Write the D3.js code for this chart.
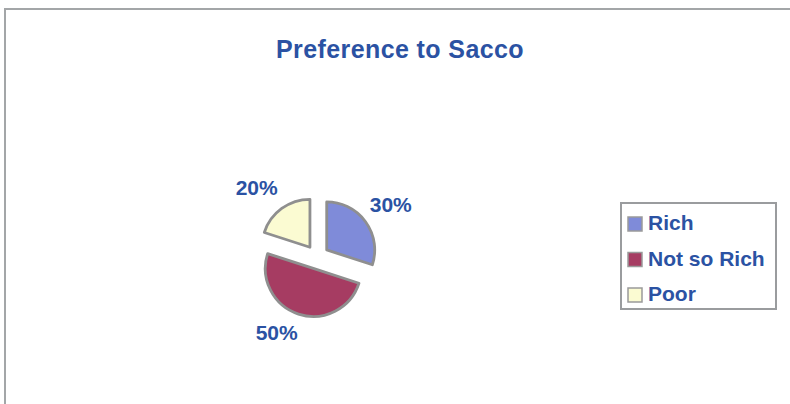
<!DOCTYPE html>
<html>
<head>
<meta charset="utf-8">
<script src="https://cdn.jsdelivr.net/npm/d3@7"></script>
<style>
  body { margin: 0; background: #fff; }
  svg { display: block; font-family: Arial, "Liberation Sans", sans-serif; font-weight: bold; }
</style>
</head>
<body>
<div id="chart"></div>
<script>
var categories = ["Rich", "Not so Rich", "Poor"];
var values = [30, 50, 20];
var labels = ["30%", "50%", "20%"];
var colors = ["#7f8bd9", "#a63c62", "#fbfbd2"];

var width = 790, height = 404;
var textColor = "#2b52a3";

var svg = d3.select("#chart").append("svg")
    .attr("width", width)
    .attr("height", height);

// outer frame (only top and left edges are visible in the shot)
svg.append("path")
    .attr("d", "M5,404 V9 H790")
    .attr("fill", "none")
    .attr("stroke", "#a3a6a8")
    .attr("stroke-width", 2);

svg.append("text")
    .attr("x", 400)
    .attr("y", 58)
    .attr("text-anchor", "middle")
    .attr("font-size", 25)
    .attr("letter-spacing", 0.4)
    .attr("fill", textColor)
    .text("Preference to Sacco");

var cx = 317, cy = 257, r = 48, explode = 12;

var pie = d3.pie().sort(null).value(function(d) { return d; });
var arcs = pie(values);
var arc = d3.arc().innerRadius(0).outerRadius(r);

var g = svg.append("g").attr("transform", "translate(" + cx + "," + cy + ")");

function offset(angle, dist) {
    return [Math.sin(angle) * dist, -Math.cos(angle) * dist];
}
function mid(d) { return (d.startAngle + d.endAngle) / 2; }

g.selectAll("path.slice")
    .data(arcs)
    .enter()
    .append("path")
    .attr("class", "slice")
    .attr("d", arc)
    .attr("transform", function(d) {
        var o = offset(mid(d), explode);
        return "translate(" + o[0] + "," + o[1] + ")";
    })
    .attr("fill", function(d, i) { return colors[i]; })
    .attr("stroke", "#8f8f8f")
    .attr("stroke-width", 2.8)
    .attr("stroke-linejoin", "round");

// percentage labels sit outside each slice
var labelDist = [90, 86, 92];
var labelTurn = [1, 10, -5]; // degrees, nudge off the mid angle
g.selectAll("text.pct")
    .data(arcs)
    .enter()
    .append("text")
    .attr("class", "pct")
    .attr("x", function(d, i) { return offset(mid(d) + labelTurn[i] * Math.PI / 180, labelDist[i])[0]; })
    .attr("y", function(d, i) { return offset(mid(d) + labelTurn[i] * Math.PI / 180, labelDist[i])[1] + 7; })
    .attr("text-anchor", "middle")
    .attr("font-size", 21)
    .attr("fill", textColor)
    .text(function(d, i) { return labels[i]; });

// legend
var legend = svg.append("g").attr("transform", "translate(621,203)");
legend.append("rect")
    .attr("width", 155)
    .attr("height", 106)
    .attr("fill", "#fff")
    .attr("stroke", "#9a9c9e")
    .attr("stroke-width", 2);

var row = legend.selectAll("g.item")
    .data(categories)
    .enter()
    .append("g")
    .attr("class", "item")
    .attr("transform", function(d, i) { return "translate(0," + (i * 35.5) + ")"; });

row.append("rect")
    .attr("x", 7)
    .attr("y", 14)
    .attr("width", 14)
    .attr("height", 14)
    .attr("fill", function(d, i) { return colors[i]; })
    .attr("stroke", "#9a9a9a")
    .attr("stroke-width", 1.5);

row.append("text")
    .attr("x", 27)
    .attr("y", 27)
    .attr("font-size", 21)
    .attr("fill", textColor)
    .text(function(d) { return d; });
</script>
</body>
</html>
